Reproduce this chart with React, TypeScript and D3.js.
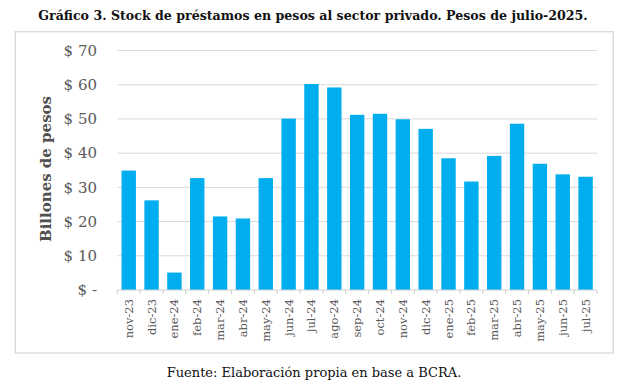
import React from "react";
import * as d3 from "d3";

const categories = ["nov-23","dic-23","ene-24","feb-24","mar-24","abr-24","may-24","jun-24","jul-24","ago-24","sep-24","oct-24","nov-24","dic-24","ene-25","feb-25","mar-25","abr-25","may-25","jun-25","jul-25"];
const values = [34.9,26.2,5.1,32.7,21.5,20.9,32.7,50.1,60.2,59.2,51.2,51.5,49.9,47.1,38.5,31.7,39.2,48.6,36.9,33.8,33.1];
const yTicks = [0,10,20,30,40,50,60,70];
const title = "Gráfico 3. Stock de préstamos en pesos al sector privado. Pesos de julio-2025.";
const yTitle = "Billones de pesos";
const source = "Fuente: Elaboración propia en base a BCRA.";

export default function App() {
  const W = 626, H = 390;
  const x0 = 117.3, x1 = 597, yBase = 290, yTop = 50.5;
  const x = d3.scaleBand().domain(categories).range([x0, x1]).paddingInner(0.37).paddingOuter(0.185);
  const xb = d3.scaleBand().domain(categories).range([x0, x1]);
  const y = d3.scaleLinear().domain([0, 70]).range([yBase, yTop]);
  const serif = "'DejaVu Serif', 'Liberation Serif', serif";
  const gray = "#595959";
  return (
    <svg width={W} height={H} style={{ position: "absolute", left: 0, top: 0, background: "#fff" }}>
      <text x={313} y={20} textAnchor="middle" fontFamily={serif} fontWeight="bold" fontSize={12.6} fill="#111">{title}</text>
      <rect x={15.3} y={31.7} width={598} height={321.3} fill="none" stroke="#d9d9d9" strokeWidth={1.3} />
      {yTicks.map(t => (
        <g key={t}>
          {t > 0 && <line x1={x0} x2={x1} y1={y(t)} y2={y(t)} stroke="#d9d9d9" strokeWidth={1} />}
          <text x={97} y={y(t)} dy="0.35em" textAnchor="end" fontFamily={serif} fontSize={15} fill={gray}>
            {t === 0 ? "$ -" : `$ ${t}`}
          </text>
        </g>
      ))}
      {categories.map((c, i) => (
        <rect key={c} x={x(c)} y={y(values[i])} width={x.bandwidth()} height={yBase - y(values[i])} fill="#00aeef" />
      ))}
      <line x1={x0} x2={x1} y1={yBase} y2={yBase} stroke="#d0d0d0" strokeWidth={1} />
      {[...categories.map(c => xb(c) as number), x1].map((v, i) => (
        <line key={i} x1={v} x2={v} y1={yBase} y2={yBase + 4} stroke="#d0d0d0" strokeWidth={1} />
      ))}
      {categories.map(c => {
        const cx = (x(c) as number) + x.bandwidth() / 2;
        return (
          <text key={c} transform={`translate(${cx + 4},${299}) rotate(-90)`} textAnchor="end" fontFamily={serif} fontSize={11.5} fill={gray}>{c}</text>
        );
      })}
      <text transform={`translate(51,169) rotate(-90)`} textAnchor="middle" fontFamily={serif} fontWeight="bold" fontSize={15} fill="#505050">{yTitle}</text>
      <text x={314} y={377} textAnchor="middle" fontFamily={serif} fontSize={13} fill="#111">{source}</text>
    </svg>
  );
}
